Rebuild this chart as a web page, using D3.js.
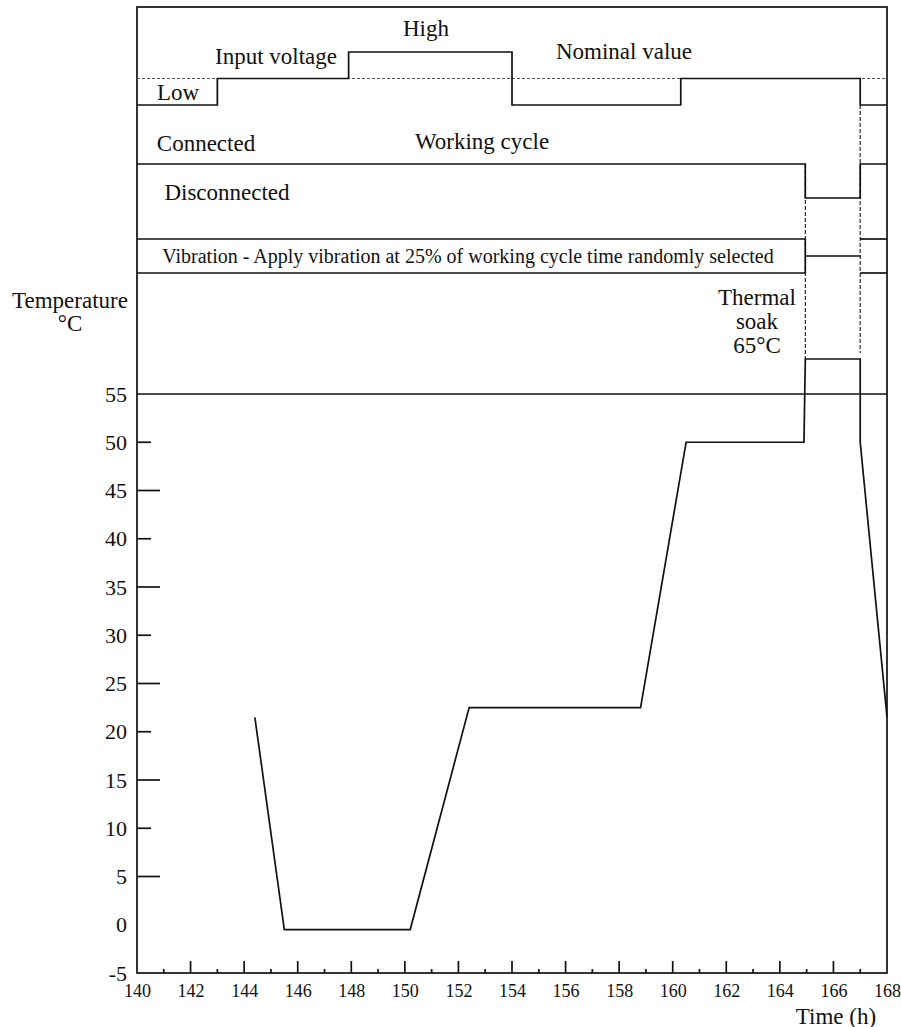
<!DOCTYPE html>
<html>
<head>
<meta charset="utf-8">
<script src="https://cdn.jsdelivr.net/npm/d3@7"></script>
</head>
<body style="margin:0">
<svg id="chart" width="901" height="1027"></svg>
<script>
// ---- data ----
const timeTicks = [140, 142, 144, 146, 148, 150, 152, 154, 156, 158, 160, 162, 164, 166, 168];
const timeMinor = [141, 143, 145, 147, 149, 151, 153, 155, 157, 159, 161, 163, 165, 167];
const tempTicks = [-5, 0, 5, 10, 15, 20, 25, 30, 35, 40, 45, 50, 55];

// temperature profile (h, °C)
const tempTime  = [144.4, 145.5, 150.2, 152.4, 158.8, 160.5, 164.9, 164.95, 167.0, 167.0, 168.0];
const tempValue = [21.5, -0.5, -0.5, 22.5, 22.5, 50, 50, 65, 65, 50, 21.5];

// input voltage steps: level holds from voltTime[i] to voltTime[i+1]
const voltLevels = ["Low", "Nominal", "High"];
const voltTime  = [140, 143.0, 147.9, 154.0, 160.3, 167.0, 168];
const voltLevel = ["Low", "Nominal", "High", "Low", "Nominal", "Low"];

// working cycle steps
const cycleStates = ["Disconnected", "Connected"];
const cycleTime  = [140, 164.95, 167.0, 168];
const cycleState = ["Connected", "Disconnected", "Connected"];

// vibration phases
const vibTime  = [140, 164.95, 167.0, 168];
const vibState = ["on", "off", "on"];

// phase boundaries marked with dashed guides
const guideTime = [164.95, 167.0];

// ---- layout ----
const FONT = "\"Liberation Serif\"";
const svg = d3.select("#chart");
const padL = 137, padR = 887, padT = 7, padB = 973;

const x = d3.scaleLinear().domain([140, 168]).range([padL, padR]);
// temperature scale: linear up to 55 °C, compressed band above for the soak level
const y = d3.scaleLinear().domain([-5, 55, 65]).range([padB, 394, 359]);
const yVolt = d3.scalePoint().domain(voltLevels).range([105, 52]);
const yCycle = d3.scalePoint().domain(cycleStates).range([198, 164]);
const vibTop = 239, vibBot = 273;

const ink = "#111";
const lw = 1.7;

// frame
svg.append("rect")
  .attr("x", padL).attr("y", padT)
  .attr("width", padR - padL).attr("height", padB - padT)
  .attr("fill", "none").attr("stroke", ink).attr("stroke-width", lw);

// nominal voltage reference (dashed)
svg.append("line")
  .attr("x1", padL).attr("x2", padR)
  .attr("y1", yVolt("Nominal")).attr("y2", yVolt("Nominal"))
  .attr("stroke", "#555").attr("stroke-width", 1.1).attr("stroke-dasharray", "3,2");

// step helper
function stepPath(times, states, yf) {
  const pts = [];
  states.forEach((s, i) => {
    pts.push([x(times[i]), yf(s)]);
    pts.push([x(times[i + 1]), yf(s)]);
  });
  return d3.line()(pts);
}

svg.append("path")
  .attr("d", stepPath(voltTime, voltLevel, yVolt))
  .attr("fill", "none").attr("stroke", ink).attr("stroke-width", lw);

svg.append("path")
  .attr("d", stepPath(cycleTime, cycleState, yCycle))
  .attr("fill", "none").attr("stroke", ink).attr("stroke-width", lw);

// vibration band
vibState.forEach((s, i) => {
  const x0 = x(vibTime[i]), x1 = x(vibTime[i + 1]);
  if (s === "on") {
    [vibTop, vibBot].forEach(yy => {
      svg.append("line").attr("x1", x0).attr("x2", x1).attr("y1", yy).attr("y2", yy)
        .attr("stroke", ink).attr("stroke-width", lw);
    });
  } else {
    const ym = (vibTop + vibBot) / 2;
    svg.append("line").attr("x1", x0).attr("x2", x1).attr("y1", ym).attr("y2", ym)
      .attr("stroke", ink).attr("stroke-width", lw);
    svg.append("line").attr("x1", x0).attr("x2", x0).attr("y1", vibTop).attr("y2", vibBot)
      .attr("stroke", ink).attr("stroke-width", lw);
  }
});

// dashed phase guides
svg.append("line")
  .attr("x1", x(guideTime[0])).attr("x2", x(guideTime[0]))
  .attr("y1", yCycle("Connected")).attr("y2", y(65))
  .attr("stroke", ink).attr("stroke-width", 1.1).attr("stroke-dasharray", "4,2");
svg.append("line")
  .attr("x1", x(guideTime[1])).attr("x2", x(guideTime[1]))
  .attr("y1", yVolt("Low")).attr("y2", y(65) - 6)
  .attr("stroke", ink).attr("stroke-width", 1.1).attr("stroke-dasharray", "4,2");

// 55 °C limit line
svg.append("line")
  .attr("x1", padL).attr("x2", padR).attr("y1", y(55)).attr("y2", y(55))
  .attr("stroke", ink).attr("stroke-width", lw);

// temperature profile
svg.append("path")
  .attr("d", d3.line()(tempTime.map((t, i) => [x(t), y(tempValue[i])])))
  .attr("fill", "none").attr("stroke", ink).attr("stroke-width", lw);

// y axis labels (plain hyphen for negatives)
const fmt = d => String(d);
const yAxis = d3.axisLeft(y).tickValues(tempTicks).tickSize(0).tickPadding(10).tickFormat(fmt);
const gy = svg.append("g").attr("transform", `translate(${padL},0)`).call(yAxis);
gy.select(".domain").remove();
gy.attr("font-family", null).attr("font-size", null);
gy.selectAll("text").attr("font-size", 22).attr("fill", ink).style("font-family", FONT);

// inner y ticks, alternating length
svg.selectAll(".ytick").data(tempTicks.filter(v => v > 0 && v < 55)).enter().append("line")
  .attr("x1", padL).attr("x2", d => padL + (d % 10 === 0 ? 14 : 23))
  .attr("y1", d => y(d)).attr("y2", d => y(d))
  .attr("stroke", ink).attr("stroke-width", lw);

// x axis labels
const xAxis = d3.axisBottom(x).tickValues(timeTicks).tickSize(0).tickPadding(11).tickFormat(fmt);
const gx = svg.append("g").attr("transform", `translate(0,${padB})`).call(xAxis);
gx.select(".domain").remove();
gx.attr("font-family", null).attr("font-size", null);
gx.selectAll("text").attr("font-size", 18).attr("fill", ink).style("font-family", FONT);

// inner x ticks
svg.selectAll(".xmaj").data(timeTicks.filter(v => v > 140 && v < 168)).enter().append("line")
  .attr("x1", d => x(d)).attr("x2", d => x(d)).attr("y1", padB).attr("y2", padB - 12)
  .attr("stroke", ink).attr("stroke-width", lw);
svg.selectAll(".xmin").data(timeMinor).enter().append("line")
  .attr("x1", d => x(d)).attr("x2", d => x(d)).attr("y1", padB).attr("y2", padB - 4)
  .attr("stroke", ink).attr("stroke-width", lw);

// annotations
function label(txt, cx, cy, size) {
  svg.append("text").text(txt)
    .attr("x", cx).attr("y", cy)
    .attr("text-anchor", "middle")
    .attr("dominant-baseline", "central")
    .attr("font-size", size).attr("fill", ink)
    .style("font-family", FONT);
}
label("High", 426, 28, 23);
label("Input voltage", 276, 56, 23);
label("Nominal value", 624, 51, 23);
label("Low", 178, 92, 23);
label("Connected", 206, 143, 23);
label("Working cycle", 482, 141, 23);
label("Disconnected", 227, 192, 23);
label("Vibration - Apply vibration at 25% of working cycle time randomly selected", 468, 256, 20);
label("Thermal", 757, 297, 23);
label("soak", 757, 321, 23);
label("65°C", 757, 345, 23);
label("Temperature", 70, 300, 23);
label("°C", 70, 323, 23);
label("Time (h)", 836, 1016, 23);
</script>
</body>
</html>
